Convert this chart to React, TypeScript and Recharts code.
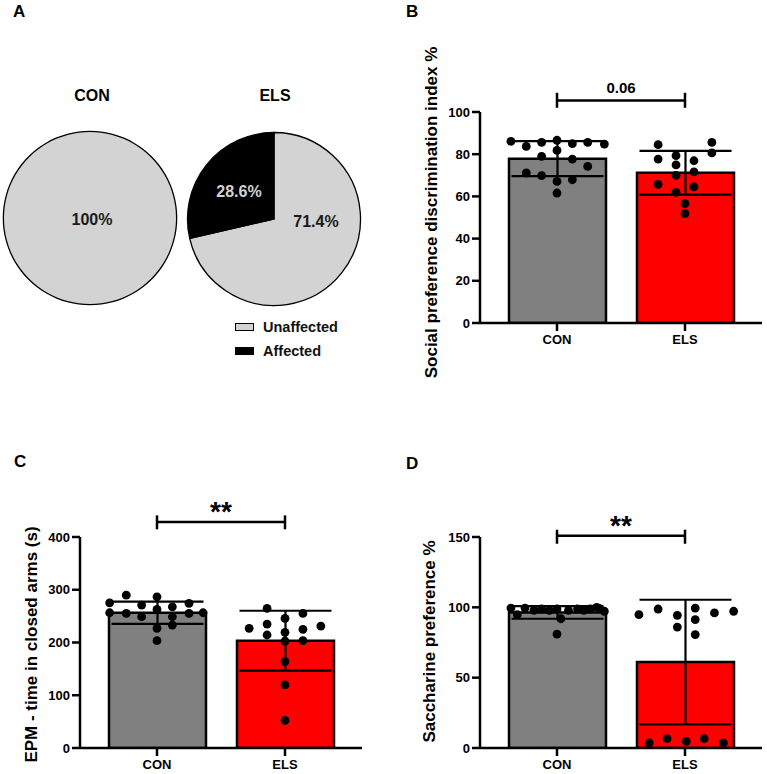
import {
  ComposedChart,
  Bar,
  Cell,
  ErrorBar,
  Scatter,
  XAxis,
  YAxis,
  ReferenceLine,
  PieChart,
  Pie,
  Legend,
} from "recharts";

const FONT = '"Liberation Sans", Arial, Helvetica, sans-serif';

const groups = ["CON", "ELS"];

// A - share of animals (%)
const conPie = [{ name: "Unaffected", value: 100 }];
const elsPie = [
  { name: "Unaffected", value: 71.4 },
  { name: "Affected", value: 28.6 },
];

// B - social preference discrimination index (%)
const socialMean = [77.9, 71.2];
const socialSd = [8.3, 10.4];
const socialCon = [86.1, 83.7, 85.6, 86.6, 85.0, 85.6, 84.8, 79.0, 81.8, 77.7, 74.2, 71.1, 69.8, 67.1, 67.9, 61.6];
const socialConX = [-0.36, -0.24, -0.12, 0, 0.12, 0.24, 0.37, -0.12, 0, 0.12, 0.24, -0.24, -0.12, 0, 0.12, 0];
const socialEls = [84.5, 79.3, 85.6, 77.7, 76.9, 80.6, 74.9, 71.6, 70.0, 65.7, 64.5, 61.9, 56.6, 51.8];
const socialElsX = [-0.21, -0.07, 0.21, -0.21, 0.07, 0.21, -0.07, 0.07, -0.07, -0.21, 0.07, -0.07, 0, 0];
const socialTicks = [0, 20, 40, 60, 80, 100];
const socialBracket = [102, 105.4, 109.1];

// C - EPM time in closed arms (s)
const epmMean = [256.4, 203.5];
const epmSd = [21, 56.7];
const epmCon = [275.3, 289.8, 256.4, 255.1, 270.9, 248.8, 286.6, 262.7, 226.8, 203.5, 267.7, 248.8, 233.1, 274.0, 255.1, 256.4];
const epmConX = [-0.37, -0.24, -0.37, -0.24, -0.12, -0.12, 0, 0, 0, 0, 0.12, 0.12, 0.12, 0.25, 0.25, 0.36];
const epmEls = [226.8, 264.6, 235.0, 214.2, 245.7, 219.2, 202.8, 163.8, 119.7, 52.3, 255.1, 224.9, 203.5, 231.2];
const epmElsX = [-0.28, -0.14, -0.14, -0.14, 0, 0, 0, 0, 0, 0, 0.14, 0.14, 0.14, 0.28];
const epmTicks = [0, 100, 200, 300, 400];
const epmBracket = [414.6, 428.4, 441];

// D - saccharine preference (%)
const sacMean = [96.4, 61.1];
const sacSd = [4.5, 44.3];
const sacCon = [99.5, 94.8, 99.5, 97.9, 98.8, 97.9, 98.8, 81.0, 91.9, 97.9, 98.8, 97.9, 98.8, 100.0, 97.2, 99.2];
const sacConX = [-0.36, -0.31, -0.25, -0.18, -0.12, -0.06, 0, 0, 0.03, 0.09, 0.16, 0.21, 0.26, 0.31, 0.37, 0.33];
const sacEls = [94.8, 3.6, 98.8, 6.6, 94.3, 86.0, 4.7, 99.5, 91.2, 80.6, 6.6, 96.0, 3.6, 97.2];
const sacElsX = [-0.36, -0.28, -0.21, -0.14, -0.06, -0.06, 0.01, 0.08, 0.08, 0.08, 0.15, 0.23, 0.3, 0.38];
const sacTicks = [0, 50, 100, 150];
const sacBracket = [145.2, 150.9, 155.2];

const SLICE_FILL: Record<string, string> = { Unaffected: "#d3d3d3", Affected: "#000000" };
const BAR_FILL: Record<string, string> = { CON: "#808080", ELS: "#ff0000" };
const PIE_LABEL_SPOT: Record<string, [number, number]> = {
  "CON-Unaffected": [2, 1],
  "ELS-Unaffected": [42, 2],
  "ELS-Affected": [-35, -28],
};

const toBars = (means: number[], sds: number[]) =>
  groups.map((g, i) => ({ name: g, mean: means[i], sd: sds[i] }));

const toDots = (vals: number[], offs: number[], idx: number) =>
  vals.map((v, i) => ({ x: idx + offs[i], y: v }));

const axisStroke = { stroke: "#000", strokeWidth: 2.5 };
const tickFont = { fill: "#000", fontSize: 13, fontWeight: 700, fontFamily: FONT };

function AxisTitle({ viewBox, text, size, x, shift }: any) {
  const vb = viewBox ?? { y: 0, height: 0 };
  const cy = vb.y + vb.height / 2 + shift;
  return (
    <text
      x={x}
      y={cy}
      transform={`rotate(-90, ${x}, ${cy})`}
      textAnchor="middle"
      dominantBaseline="central"
      fontSize={size}
      fontWeight={700}
      fontFamily={FONT}
      fill="#000"
    >
      {text}
    </text>
  );
}

function Dot(p: any) {
  return <circle cx={p.cx} cy={p.cy} r={4.4} fill="#000" />;
}

function BarPanel({
  left, top, marginTop, marginBottom = 0, domain, ticks,
  title, titleX, titleShift, bars, con, els, bracket, sig, sigSize, sigOffset,
}: any) {
  const [lo, mid, hi] = bracket;
  return (
    <div style={{ position: "absolute", left, top }}>
      <ComposedChart
        width={367}
        height={marginTop + 211 + 27 + marginBottom}
        data={bars}
        margin={{ top: marginTop, right: 5, bottom: marginBottom, left: 0 }}
      >
        <XAxis
          xAxisId="cat"
          dataKey="name"
          type="category"
          padding={{ left: 13, right: 13 }}
          height={27}
          tickSize={8}
          tickMargin={4}
          axisLine={axisStroke}
          tickLine={axisStroke}
          tick={tickFont}
        />
        <XAxis xAxisId="num" type="number" dataKey="x" domain={[-0.5, 1.5]} padding={{ left: 13, right: 13 }} allowDataOverflow hide />
        <YAxis
          domain={domain}
          ticks={ticks}
          interval={0}
          width={80}
          tickSize={8}
          tickMargin={2}
          axisLine={axisStroke}
          tickLine={axisStroke}
          tick={tickFont}
          allowDataOverflow
          label={(p: any) => <AxisTitle viewBox={p.viewBox} text={title} size={17} x={titleX} shift={titleShift} />}
        />
        <Bar xAxisId="cat" dataKey="mean" barSize={97} stroke="#000" strokeWidth={2.5} isAnimationActive={false}>
          {bars.map((b: any) => (
            <Cell key={b.name} fill={BAR_FILL[b.name]} />
          ))}
          <ErrorBar dataKey="sd" width={46} stroke="#000" strokeWidth={2.2} />
        </Bar>
        <Scatter xAxisId="num" data={con} dataKey="y" shape={Dot} isAnimationActive={false} />
        <Scatter xAxisId="num" data={els} dataKey="y" shape={Dot} isAnimationActive={false} />
        <ReferenceLine
          xAxisId="cat"
          ifOverflow="visible"
          stroke="#000"
          strokeWidth={2.5}
          segment={[{ x: "CON", y: mid }, { x: "ELS", y: mid }]}
          label={{ value: sig, position: "top", offset: sigOffset, fontSize: sigSize, fontWeight: 700, fontFamily: FONT, fill: "#000" }}
        />
        <ReferenceLine xAxisId="cat" ifOverflow="visible" stroke="#000" strokeWidth={2.5} segment={[{ x: "CON", y: lo }, { x: "CON", y: hi }]} />
        <ReferenceLine xAxisId="cat" ifOverflow="visible" stroke="#000" strokeWidth={2.5} segment={[{ x: "ELS", y: lo }, { x: "ELS", y: hi }]} />
      </ComposedChart>
    </div>
  );
}

const pieLabel = (group: string) => (p: any) => {
  const name = p.payload?.name ?? p.name;
  const [dx, dy] = PIE_LABEL_SPOT[`${group}-${name}`] ?? [0, 0];
  return (
    <text
      x={p.cx + dx}
      y={p.cy + dy}
      textAnchor="middle"
      dominantBaseline="central"
      fontSize={16}
      fontWeight={700}
      fontFamily={FONT}
      fill={name === "Affected" ? "#d3d3d3" : "#1a1a1a"}
    >
      {`${p.value}%`}
    </text>
  );
};

function PieLegend({ payload }: any) {
  // one row per slice name, in the order of the ELS pie
  const items = elsPie
    .map((d) => (payload ?? []).find((e: any) => e.value === d.name))
    .filter(Boolean);
  return (
    <div style={{ fontFamily: FONT, fontWeight: 700, fontSize: 14.5, color: "#111" }}>
      {items.map((e: any) => (
        <div key={e.value} style={{ display: "flex", alignItems: "center", height: 24 }}>
          <span
            style={{
              display: "inline-block",
              width: 17,
              height: 6,
              border: "1.5px solid #000",
              background: SLICE_FILL[e.value] ?? e.color,
              marginRight: 9,
            }}
          />
          <span>{e.value}</span>
        </div>
      ))}
    </div>
  );
}

function PiePanel() {
  return (
    <div style={{ position: "absolute", left: 0, top: 0 }}>
      <PieChart width={380} height={370} margin={{ top: 0, right: 0, bottom: 0, left: 0 }}>
        <Pie
          data={conPie}
          dataKey="value"
          nameKey="name"
          cx={90}
          cy={218}
          outerRadius={86.5}
          startAngle={90}
          endAngle={-270}
          stroke="none"
          label={pieLabel("CON")}
          labelLine={false}
          legendType="none"
          isAnimationActive={false}
        >
          {conPie.map((d) => (
            <Cell key={d.name} fill={SLICE_FILL[d.name]} />
          ))}
        </Pie>
        <Pie
          data={conPie}
          dataKey="value"
          cx={90}
          cy={218}
          innerRadius={86}
          outerRadius={87.3}
          startAngle={90}
          endAngle={-270}
          fill="#000"
          stroke="none"
          legendType="none"
          isAnimationActive={false}
        />
        <Pie
          data={elsPie}
          dataKey="value"
          nameKey="name"
          cx={274}
          cy={219}
          outerRadius={86.5}
          startAngle={90}
          endAngle={-270}
          stroke="#000"
          strokeWidth={1.3}
          label={pieLabel("ELS")}
          labelLine={false}
          isAnimationActive={false}
        >
          {elsPie.map((d) => (
            <Cell key={d.name} fill={SLICE_FILL[d.name]} />
          ))}
        </Pie>
        <Legend
          layout="vertical"
          align="center"
          verticalAlign="middle"
          content={<PieLegend />}
          wrapperStyle={{ left: 235, top: 315, width: 140 }}
        />
      </PieChart>
    </div>
  );
}

export default function App() {
  return (
    <div style={{ position: "absolute", left: 0, top: 0, width: 767, height: 774, background: "#fff", fontFamily: FONT }}>
      <svg width={767} height={774} style={{ position: "absolute", left: 0, top: 0 }} fontFamily={FONT} fontWeight={700} fill="#000">
        <text x={13} y={17} fontSize={17}>A</text>
        <text x={406} y={17} fontSize={17}>B</text>
        <text x={14} y={467} fontSize={17}>C</text>
        <text x={406} y={469} fontSize={17}>D</text>
        <text x={92} y={101} fontSize={16} textAnchor="middle">CON</text>
        <text x={275} y={101} fontSize={16} textAnchor="middle">ELS</text>
      </svg>
      <PiePanel />
      <BarPanel
        left={400}
        top={40}
        marginTop={72}
        marginBottom={40}
        domain={[0, 100]}
        ticks={socialTicks}
        title="Social preference discrimination index %"
        titleX={31}
        titleShift={-5}
        bars={toBars(socialMean, socialSd)}
        con={toDots(socialCon, socialConX, 0)}
        els={toDots(socialEls, socialElsX, 1)}
        bracket={socialBracket}
        sig="0.06"
        sigSize={15}
        sigOffset={8}
      />
      <BarPanel
        left={0}
        top={440}
        marginTop={97}
        domain={[0, 400]}
        ticks={epmTicks}
        title="EPM - time in closed arms (s)"
        titleX={31}
        titleShift={2}
        bars={toBars(epmMean, epmSd)}
        con={toDots(epmCon, epmConX, 0)}
        els={toDots(epmEls, epmElsX, 1)}
        bracket={epmBracket}
        sig="**"
        sigSize={28}
        sigOffset={1}
      />
      <BarPanel
        left={400}
        top={440}
        marginTop={97}
        domain={[0, 150]}
        ticks={sacTicks}
        title="Saccharine preference %"
        titleX={29}
        titleShift={-1}
        bars={toBars(sacMean, sacSd)}
        con={toDots(sacCon, sacConX, 0)}
        els={toDots(sacEls, sacElsX, 1)}
        bracket={sacBracket}
        sig="**"
        sigSize={28}
        sigOffset={1}
      />
    </div>
  );
}
